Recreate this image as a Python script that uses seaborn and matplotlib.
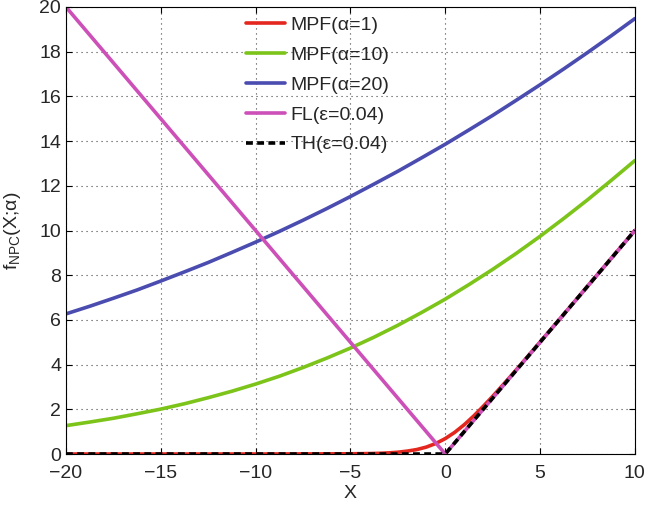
import matplotlib
matplotlib.use("Agg")
import matplotlib.pyplot as plt
import seaborn as sns

# values
x_smooth = [-20, -18.75, -17.5, -16.25, -15, -13.75, -12.5, -11.25, -10, -8.75,
            -7.5, -6.25, -5, -3.75, -2.5, -1.25, 0, 1.25, 2.5, 3.75, 5, 6.25,
            7.5, 8.75, 10]
mpf10 = [1.27, 1.43, 1.60, 1.80, 2.01, 2.25, 2.52, 2.81, 3.13, 3.48, 3.87, 4.29,
         4.74, 5.23, 5.76, 6.33, 6.93, 7.58, 8.26, 8.98, 9.74, 10.54, 11.37,
         12.24, 13.13]
mpf20 = [6.27, 6.61, 6.97, 7.34, 7.74, 8.15, 8.57, 9.02, 9.48, 9.96, 10.46,
         10.98, 11.52, 12.08, 12.65, 13.25, 13.86, 14.50, 15.15, 15.83, 16.52,
         17.23, 17.96, 18.71, 19.48]

x_mpf1 = [-20, -10, -5, -4, -3.5, -3, -2.5, -2, -1.5, -1, -0.5, 0, 0.5, 1, 1.5,
          2, 2.5, 3, 3.5, 4, 5, 6, 10]
mpf1 = [0.0, 0.0, 0.01, 0.02, 0.03, 0.05, 0.08, 0.13, 0.20, 0.31, 0.47, 0.69,
        0.97, 1.31, 1.70, 2.13, 2.58, 3.05, 3.53, 4.02, 5.01, 6.0, 10.0]

x_knee = [-20, 0, 10]
fl = [20, 0, 10]
th = [0, 0, 10]

labels = ["MPF(α=1)", "MPF(α=10)", "MPF(α=20)", "FL(ε=0.04)", "TH(ε=0.04)"]
colors = ["#e3261e", "#7cc41a", "#4a4cb0", "#cc50b8", "black"]

sns.set_style("ticks")
plt.rcParams["font.family"] = ["Liberation Sans", "DejaVu Sans"]
plt.rcParams["mathtext.default"] = "regular"

fig = plt.figure(figsize=(6.45, 5.07), dpi=100)
ax = fig.add_axes([0.1023, 0.1045, 0.882, 0.8817])

lw = 2.6
sns.lineplot(x=x_mpf1, y=mpf1, ax=ax, color=colors[0], lw=lw, label=labels[0])
sns.lineplot(x=x_smooth, y=mpf10, ax=ax, color=colors[1], lw=lw, label=labels[1])
sns.lineplot(x=x_smooth, y=mpf20, ax=ax, color=colors[2], lw=lw, label=labels[2])
sns.lineplot(x=x_knee, y=fl, ax=ax, color=colors[3], lw=lw, label=labels[3])
sns.lineplot(x=x_knee, y=th, ax=ax, color=colors[4], lw=lw, label=labels[4],
             linestyle=(0, (1.9, 1.2)))

ax.set_xlim(-20, 10)
ax.set_ylim(0, 20)
ax.set_xticks(range(-20, 11, 5))
ax.set_yticks(range(0, 21, 2))
ax.tick_params(direction="in", labelsize=14, length=4, color="black",
               top=True, right=True)
ax.tick_params(axis="x", pad=8)
ax.tick_params(axis="y", pad=3.5)
ax.grid(True, linestyle=(0, (1, 3.5)), color="#444444", lw=0.8)
for s in ax.spines.values():
    s.set_color("black")
    s.set_linewidth(0.8)

ax.set_xlabel("X", fontsize=14, labelpad=2)
ax.set_ylabel("f$_{NPC}$(X;α)", fontsize=14)
ax.yaxis.set_label_coords(-0.075, 0.5)

ax.legend(loc="upper left", bbox_to_anchor=(0.316, 0.979), frameon=False,
          borderaxespad=0, borderpad=0, fontsize=14, handlelength=2.0,
          labelspacing=0.63, handletextpad=0.3)

fig.savefig("out.png", dpi=100)
